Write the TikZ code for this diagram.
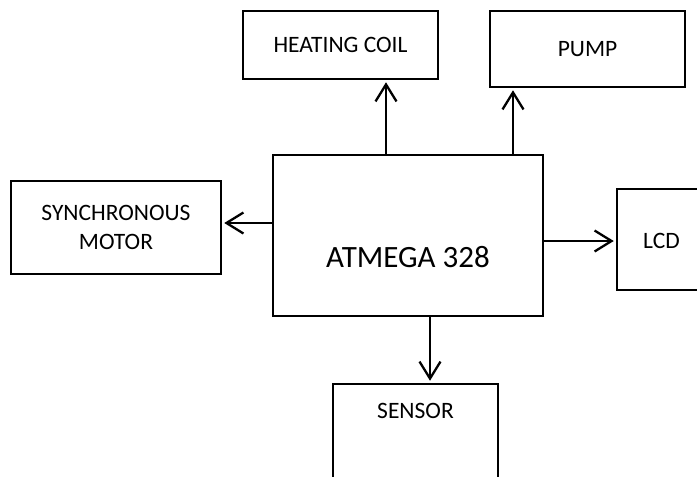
\documentclass[tikz,border=0pt]{standalone}
\usepackage{fontspec}
\setmainfont{Carlito}
\usetikzlibrary{arrows.meta}
\begin{document}
\begin{tikzpicture}[x=1pt,y=-1pt,
 box/.style={draw=black, line width=2.5pt, fill=white, inner sep=0pt},
 txt/.style={font=\fontsize{23.5}{29}\selectfont, align=center, inner sep=0pt},
 big/.style={font=\fontsize{31}{37}\selectfont, inner sep=0pt},
 link/.style={line width=2.3pt, -{Straight Barb[length=17pt,width=21pt]}, shorten >=2pt}]
\useasboundingbox (0,0) rectangle (697,477);
\clip (0,0) rectangle (697,477);
\fill[white] (0,0) rectangle (697,477);
% boxes
\node[box, txt, minimum width=195pt, minimum height=68pt] (heat) at (340.5,45) {HEATING COIL};
\node[box, txt, minimum width=195pt, minimum height=76pt] (pump) at (587.5,49) {PUMP};
\node[box, txt, minimum width=210pt, minimum height=93pt] (sync) at (116,227.5) {SYNCHRONOUS\\MOTOR};
\node[box, minimum width=270pt, minimum height=161pt] (atmega) at (408,235.5) {};
\node[big] (atmegatext) at (408,257) {ATMEGA 328};
\node[box, minimum width=93pt, minimum height=101pt] (lcd) at (663.5,239.5) {};
\node[txt] (lcdtext) at (661.5,240.5) {LCD};
\node[box, minimum width=165pt, minimum height=110pt] (sensor) at (415.5,439) {};
\node[txt] (sensortext) at (415.5,410.5) {SENSOR};
% connector guides
\coordinate (hx) at (386,0);
\coordinate (px) at (513,0);
\coordinate (sy) at (0,223);
\coordinate (ly) at (0,241);
\coordinate (sx) at (430,0);
% connectors
\draw[link] (atmega.north -| hx) -- (heat.south -| hx);
\draw[link] (atmega.north -| px) -- (pump.south -| px);
\draw[link] (atmega.west |- sy) -- (sync.east |- sy);
\draw[link] (atmega.east |- ly) -- (lcd.west |- ly);
\draw[link] (atmega.south -| sx) -- (sensor.north -| sx);
\end{tikzpicture}
\end{document}
